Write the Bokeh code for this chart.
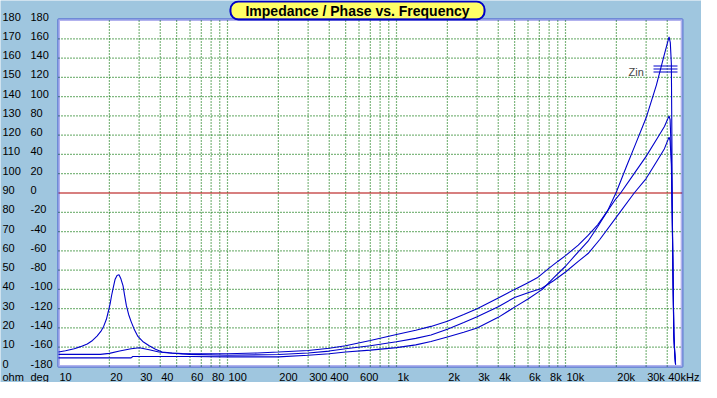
from bokeh.plotting import figure
from bokeh.models import Label, BoxAnnotation
from bokeh.embed import file_html
from bokeh.resources import INLINE
from bokeh.core.properties import value

# ---------------- data ----------------
# curve with bass resonance (top curve in the mid band)
freq_a = [10, 11, 12.4, 13.5, 14.8, 15.9, 16.9, 17.8, 18.5, 19.2, 19.7, 20.2, 20.6, 21.1,
          21.6, 22.2, 22.8, 23.4, 24.1, 24.6, 25.2, 26, 26.9, 28, 29.4, 31.5, 34.4, 37.5,
          41, 47, 54, 70, 100, 150, 200, 300, 400, 500, 700, 1000, 1300, 1600, 2000, 2500,
          3000, 4000, 5000, 6000, 6800, 8000, 9000, 10000, 11900, 13600, 15500, 17700,
          19500, 21200, 25000, 30000, 35000, 38500, 41000, 41600, 42300, 42800, 43300,
          43800, 44300, 44800]
ohm_a = [7.5, 8.2, 9.2, 10.3, 11.7, 13.5, 15.8, 18.2, 20.8, 24.5, 28.4, 32.5, 36.7, 41.0,
         45.1, 47.2, 47.6, 45.5, 41.8, 37.0, 31.7, 27.0, 23.3, 19.5, 15.8, 13.0, 10.8, 9.0,
         7.5, 7.0, 6.7, 6.6, 6.6, 7.0, 7.5, 8.3, 9.5, 10.8, 13.5, 16.6, 18.8, 20.8, 23.5, 27.0,
         30.0, 35.5, 40.0, 43.5, 46.0, 51.0, 54.5, 57.5, 63.0, 68.0, 73.5, 80.6,
         86.0, 90.0, 99.0, 109.0, 118.5, 124.5, 130.0, 128.0, 110.0, 80.0, 45.0,
         16.0, 7.0, 1.0]

# flat curve at low frequency, steepest rise at high frequency (peak ~171)
freq_b = [10, 26.9, 27.5, 60, 100, 200, 300, 400, 500, 700, 1000, 1300, 1600, 2000, 2500,
          3000, 4000, 5000, 6000, 7300, 8500, 10000, 11900, 13600, 15500, 17700, 20000,
          23000, 26000, 30000, 34500, 38500, 41000, 41700, 42300, 42600, 42800, 43300,
          43700, 44200, 44800]
ohm_b = [4.5, 4.5, 5.2, 5.2, 5.0, 5.0, 5.8, 6.6, 7.5, 8.5, 9.8, 11.2, 13.0, 15.3, 17.8,
         20.0, 25.5, 30.8, 35.0, 40.0, 46.0, 52.0, 59.5, 65.0, 72.5, 80.6, 90.5,
         104.0, 115.5, 129.0, 146.0, 162.0, 171.0, 168.0, 157.0, 120.0, 85.0, 45.0,
         18.0, 8.0, 1.0]

# curve with a small hump near 30 Hz
freq_c = [10, 17.7, 20, 23, 26.9, 30.1, 34.4, 39.3, 45, 60, 100, 200, 300, 400, 500, 700,
          1000, 1300, 1600, 2000, 2500, 3000, 4000, 5000, 6000, 7200, 8500, 10000, 11900,
          13600, 16000, 20000, 25500, 30000, 35000, 38500, 41000, 41600, 42300, 42800,
          43300, 43800, 44300, 44800]
ohm_c = [6.3, 6.3, 6.8, 8.0, 9.2, 9.7, 8.7, 7.5, 7.0, 6.3, 5.8, 6.2, 7.0, 8.0, 9.2, 10.8,
         12.8, 14.6, 16.3, 19.3, 22.8, 25.8, 31.0, 35.8, 38.3, 40.5, 44.5, 49.0, 54.5,
         58.6, 66.0, 77.5, 90.0, 97.5, 107.0, 113.0, 119.0, 117.0, 105.0, 78.0,
         44.0, 15.0, 7.0, 1.0]

ohm_ticks = [0, 10, 20, 30, 40, 50, 60, 70, 80, 90, 100, 110, 120, 130, 140, 150, 160, 170, 180]
deg_ticks = [-180, -160, -140, -120, -100, -80, -60, -40, -20, 0, 20, 40, 60, 80, 100, 120, 140, 160, 180]
ohm_grid = [10, 20, 30, 40, 50, 60, 70, 80, 100, 110, 120, 130, 140, 150, 160, 170]
x_grid = [20, 30, 40, 50, 60, 70, 80, 90, 100, 200, 300, 400, 500, 600, 700, 800, 900,
          1000, 2000, 3000, 4000, 5000, 6000, 7000, 8000, 9000, 10000, 20000, 30000, 40000]
x_label_pos = [10, 20, 30, 40, 60, 80, 100, 200, 300, 400, 600, 1000, 2000, 3000, 4000,
               6000, 8000, 10000, 20000, 30000, 40000]
x_label_txt = ["10", "20", "30", "40", "60", "80", "100", "200", "300", "400", "600", "1k",
               "2k", "3k", "4k", "6k", "8k", "10k", "20k", "30k", "40kHz"]
F_MIN, F_MAX = 10, 49000
Y_MIN, Y_MAX = 0, 180

# ---------------- layout / styling ----------------
BG = "#9FC6DF"
BLUE = "#0000C8"
CURVE = "#0000CC"
GREEN = "#007000"
RED = "#B00000"
FONT = "Liberation Sans"

W, H = 701, 382
PX_LEFT = 58          # pixel column of 10 Hz
DECADE = 169.0        # pixels per decade
PX_TOP = 19           # pixel row of 180 ohm
PX_ZERO = 366         # pixel row of 0 ohm
PPO = (PX_ZERO - PX_TOP) / (Y_MAX - Y_MIN)

x_start = F_MIN * 10 ** (-PX_LEFT / DECADE)
x_end = F_MIN * 10 ** ((W - PX_LEFT) / DECADE)
y_end = Y_MAX + PX_TOP / PPO
y_start = Y_MIN - (H - PX_ZERO) / PPO

p = figure(width=W, height=H, x_axis_type="log", x_range=(x_start, x_end),
           y_range=(y_start, y_end), x_axis_location=None, y_axis_location=None,
           toolbar_location=None, output_backend="svg", title=None, min_border=0)
p.grid.visible = False
p.outline_line_color = None
p.background_fill_color = BG
p.border_fill_color = BG

# white plotting area (behind everything)
p.add_layout(BoxAnnotation(left=F_MIN, right=F_MAX, bottom=Y_MIN, top=Y_MAX,
                           fill_color="white", fill_alpha=1.0, line_color=None,
                           level="underlay"))

# dotted grid
p.segment(x0=x_grid, y0=Y_MIN, x1=x_grid, y1=Y_MAX, line_color=GREEN,
          line_dash="1 2", line_width=1.2)
p.segment(x0=F_MIN, y0=ohm_grid, x1=F_MAX, y1=ohm_grid, line_color=GREEN,
          line_dash="1 2", line_width=1.2)
# 0 degree line
p.segment(x0=[F_MIN], y0=[90], x1=[F_MAX], y1=[90], line_color=RED, line_width=1.2)

# curves
for fx, oy in ((freq_a, ohm_a), (freq_b, ohm_b), (freq_c, ohm_c)):
    p.line(fx, oy, line_color=CURVE, line_width=1.1)

# frame border
p.add_layout(BoxAnnotation(left=F_MIN, right=F_MAX, bottom=Y_MIN, top=Y_MAX,
                           fill_color=None, line_color=BLUE, line_width=3,
                           level="overlay"))

txt = dict(text_font=value(FONT), text_font_size=value("11px"), text_color="black",
           text_align="left", text_baseline="middle")
# left tick label columns
p.text(x=F_MIN, y=ohm_ticks, text=[str(v) for v in ohm_ticks], x_offset=-56, y_offset=-3, **txt)
p.text(x=F_MIN, y=ohm_ticks, text=[str(v) for v in deg_ticks], x_offset=-28, y_offset=-3, **txt)
# bottom frequency labels
p.text(x=x_label_pos, y=Y_MIN, text=x_label_txt, x_offset=1, y_offset=10, **txt)
p.text(x=F_MIN, y=Y_MIN, text=["ohm"], x_offset=-56, y_offset=10, **txt)
p.text(x=F_MIN, y=Y_MIN, text=["deg"], x_offset=-28, y_offset=10, **txt)

# title box
p.add_layout(Label(x=357, y=H - 10, x_units="screen", y_units="screen",
                   text="Impedance / Phase vs. Frequency", text_font=FONT,
                   text_font_style="bold", text_font_size="14px", text_color="black",
                   text_align="center", text_baseline="middle",
                   background_fill_color="#FFFF66", border_line_color=BLUE,
                   border_line_width=2, border_radius=8,
                   padding=dict(left=15, right=15, top=1, bottom=1)))

# legend
p.add_layout(Label(x=628, y=H - 71.5, x_units="screen", y_units="screen", text="Zin",
                   text_font=FONT, text_font_size="11px", text_align="left",
                   text_baseline="middle"))
for row in (65, 68, 71):
    p.add_layout(BoxAnnotation(left=653, right=677, top=H - row, bottom=H - row - 1,
                               left_units="screen", right_units="screen",
                               top_units="screen", bottom_units="screen",
                               fill_color=CURVE, fill_alpha=1.0, line_color=None))

open("out.html", "w").write(file_html(p, INLINE))
